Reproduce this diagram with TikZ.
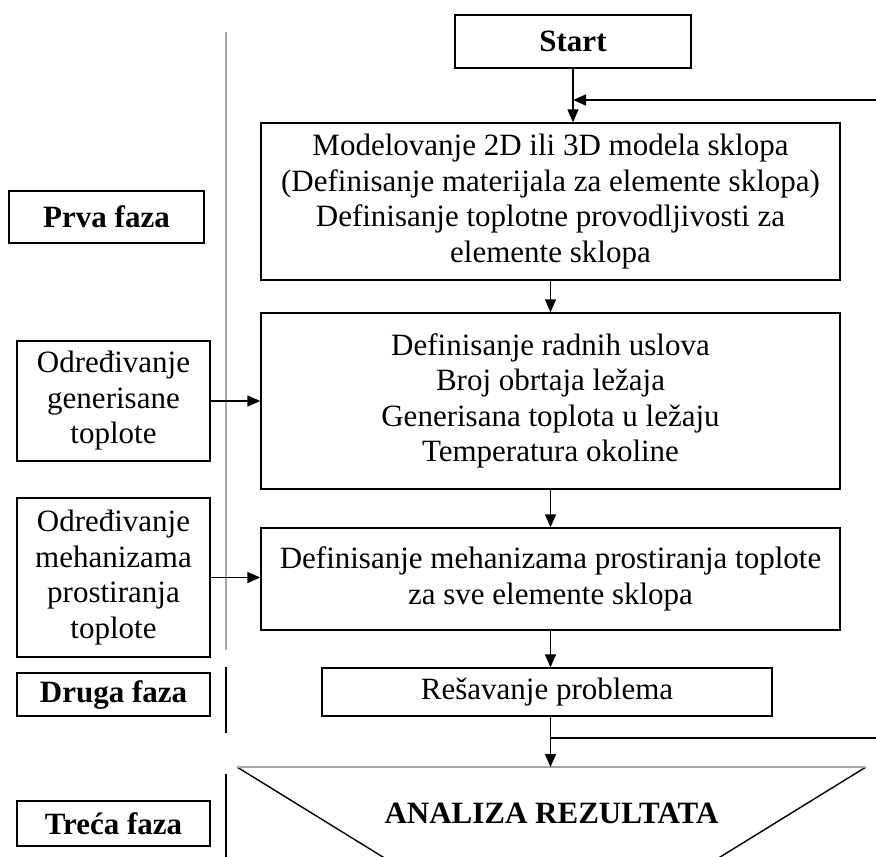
\documentclass[tikz,border=0pt]{standalone}
\usepackage{fontspec}
\setmainfont{Liberation Serif}
\usetikzlibrary{arrows.meta}

\begin{document}
\begin{tikzpicture}[x=1pt, y=-1pt,
        box/.style={draw, line width=1.4pt, align=center, inner sep=0pt,
            font=\fontsize{31}{35.5}\selectfont},
        faza/.style={box, font=\fontsize{31}{35.5}\selectfont\bfseries},
        arr/.style={-{Triangle[length=13pt,width=11pt]}, line width=1.4pt}]
        \useasboundingbox (0,0) rectangle (876,857);

        % Razdvojna linija
        \draw[gray!70, line width=2pt] (226,32) -- (226,650);
        \draw[line width=1.4pt] (226,667) -- (226,733);
        \draw[line width=1.4pt] (226,774) -- (226,857);

        % Glavni tok
        \node[faza, minimum width=236, minimum height=53] (start) at (573,41.5) {Start};
        \node[box, minimum width=579, minimum height=157] (model) at (550.5,201.5)
            {Modelovanje 2D ili 3D modela sklopa\\(Definisanje materijala za elemente sklopa)\\Definisanje toplotne provodljivosti za\\elemente sklopa};
        \node[box, minimum width=579, minimum height=176] (uslovi) at (550.5,401)
            {Definisanje radnih uslova\\Broj obrtaja ležaja\\Generisana toplota u ležaju\\Temperatura okoline};
        \node[box, minimum width=579, minimum height=102] (mehan) at (550.5,579)
            {Definisanje mehanizama prostiranja toplote\\za sve elemente sklopa};
        \node[box, minimum width=450, minimum height=48] (resav) at (547,692) {Rešavanje problema};

        % Faze i ulazi
        \node[faza, minimum width=195, minimum height=52] (prva) at (106.5,217) {Prva faza};
        \node[box, minimum width=193, minimum height=120] (gen) at (113.5,401)
            {Određivanje\\generisane\\toplote};
        \node[box, minimum width=193, minimum height=159] (meh) at (113.5,577.5)
            {Određivanje\\mehanizama\\prostiranja\\toplote};
        \node[faza, minimum width=193, minimum height=43] (druga) at (113.5,694.5) {Druga faza};
        \node[faza, minimum width=193, minimum height=45] (treca) at (113.5,823.5) {Treća faza};

        % Analiza rezultata (trougao)
        \coordinate (triL) at (237,767);
        \coordinate (triR) at (866,767);
        \coordinate (triB) at (551.5,961);
        \begin{scope}
            \clip (0,0) rectangle (876,857);
            \draw[line width=1.4pt] (triR) -- (triB) -- (triL);
            \draw[gray!70, line width=2pt] (triL) -- (triR);
        \end{scope}
        \node[font=\fontsize{31}{35}\selectfont\bfseries] (analiza) at (551.5,813) {ANALIZA REZULTATA};

        % Povratne veze
        \coordinate (fbin) at (876,100);
        \coordinate (fbout) at (876,738);

        % Strelice
        \draw[arr] (start) -- (start |- model.north);
        \draw[arr] (fbin) -- (fbin -| start);
        \draw[arr] (model) -- (uslovi);
        \draw[arr] (uslovi) -- (mehan);
        \draw[arr] (mehan) -- (mehan |- resav.north);
        \draw[arr] (mehan |- resav.south) -- (mehan |- triL);
        \draw[line width=1.4pt] (mehan |- fbout) -- (fbout);
        \draw[arr] (gen) -- (gen -| uslovi.west);
        \draw[arr] (meh) -- (meh -| mehan.west);
    \end{tikzpicture}
\end{document}
